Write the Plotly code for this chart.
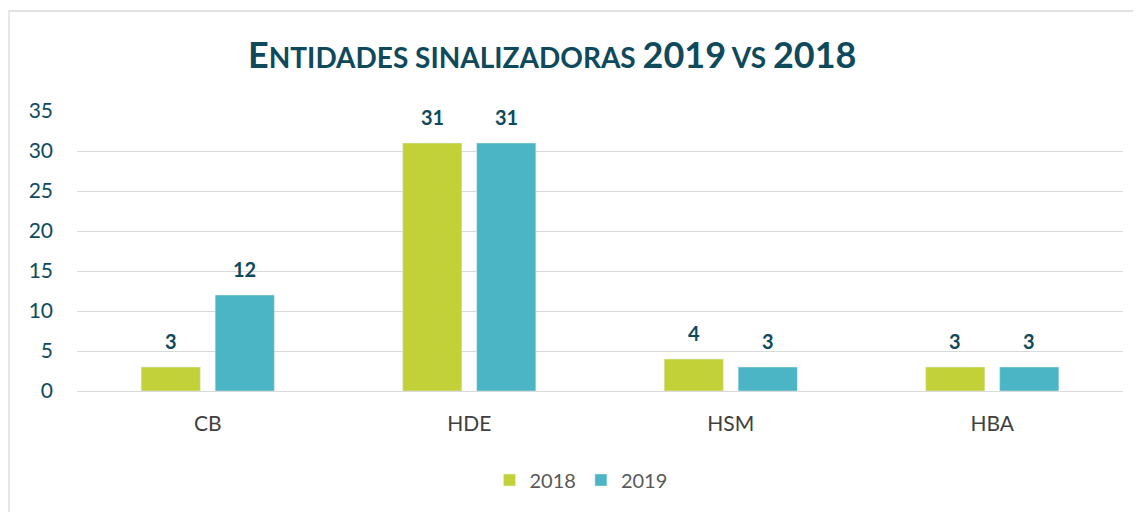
import plotly.graph_objects as go

categories = ["CB", "HDE", "HSM", "HBA"]
values_2018 = [3, 31, 4, 3]
values_2019 = [12, 31, 3, 3]
series_names = ["2018", "2019"]
y_ticks = [0, 5, 10, 15, 20, 25, 30, 35]

W, H = 1141, 512
OFF = 8  # page body offset
L, R, T, B = 69, 26, 103, 129
pw, ph = W - L - R, H - T - B
BARGAP, GROUPGAP = 0.434, 0.2

def px_x(p):
    return (p - OFF - L) / pw

def px_y(p):
    return (H - B - (p - OFF)) / ph

teal = "#0E4A5C"
font_fam = "Lato, 'Open Sans', sans-serif"
colors = ["#C3D138", "#4BB5C6"]
series = [values_2018, values_2019]

fig = go.Figure()
for name, vals, col in zip(series_names, series, colors):
    fig.add_trace(go.Bar(x=categories, y=vals, name=name, marker_color=col))

# value labels above each bar (shifted to the bar's slot within the group)
slot_px = pw / len(categories) * (1 - BARGAP) / len(series)
annotations = []
for i, vals in enumerate(series):
    xshift = (i - (len(series) - 1) / 2) * slot_px
    for cat, v in zip(categories, vals):
        annotations.append(dict(
            x=cat, y=v, xref="x", yref="y", text=f"<b>{v}</b>", showarrow=False,
            xshift=xshift, yshift=26, yanchor="middle", xanchor="center",
            font=dict(size=20, color=teal, family=font_fam)))

annotations.append(dict(
    text="<b><span style='font-size:36px'>E</span>NTIDADES SINALIZADORAS <span style='font-size:36px'>2019</span> VS <span style='font-size:36px'>2018</span></b>",
    xref="paper", yref="paper", x=px_x(552), y=px_y(54), xanchor="center", yanchor="middle",
    showarrow=False, font=dict(size=28, color=teal, family=font_fam)))

fig.update_layout(
    width=W, height=H,
    margin=dict(l=L, r=R, t=T, b=B),
    paper_bgcolor="white", plot_bgcolor="white",
    barmode="group", bargap=BARGAP, bargroupgap=GROUPGAP,
    font=dict(family=font_fam),
    showlegend=True,
    legend=dict(orientation="h", x=px_x(581), xanchor="center", y=px_y(480), yanchor="middle",
                font=dict(size=20, color="#595959"), itemwidth=30, traceorder="normal"),
    xaxis=dict(showgrid=False, showline=False, zeroline=False,
               tickfont=dict(size=21, color="#404040"), ticklabelstandoff=18),
    yaxis=dict(range=[0, 35], tickvals=y_ticks, showgrid=True, gridcolor="#D9D9D9", gridwidth=1.3,
               zeroline=True, zerolinecolor="#D9D9D9", zerolinewidth=1.3, showline=False,
               tickfont=dict(size=21, color=teal), ticklabelstandoff=23),
    annotations=annotations,
    shapes=[dict(type="rect", xref="paper", yref="paper",
                 x0=px_x(9), x1=px_x(1170), y0=px_y(540), y1=px_y(11),
                 line=dict(color="#D9D9D9", width=1.3), fillcolor="rgba(0,0,0,0)", layer="below")],
)

fig.write_html("out.html")
